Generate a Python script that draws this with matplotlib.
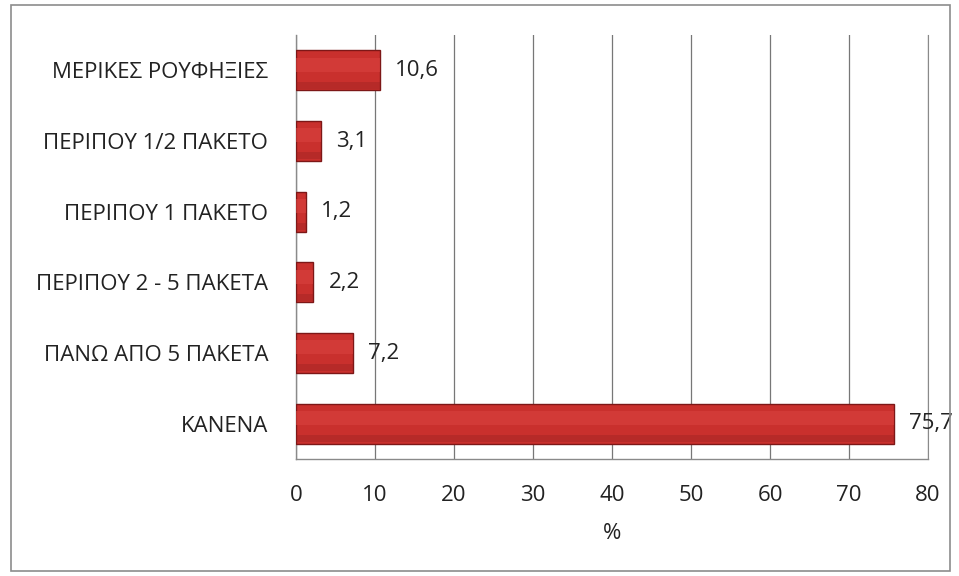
import matplotlib
matplotlib.use("Agg")
import matplotlib.pyplot as plt
from matplotlib.patches import Rectangle

categories = ["ΜΕΡΙΚΕΣ ΡΟΥΦΗΞΙΕΣ", "ΠΕΡΙΠΟΥ 1/2 ΠΑΚΕΤΟ", "ΠΕΡΙΠΟΥ 1 ΠΑΚΕΤΟ",
              "ΠΕΡΙΠΟΥ 2 - 5 ΠΑΚΕΤΑ", "ΠΑΝΩ ΑΠΟ 5 ΠΑΚΕΤΑ", "ΚΑΝΕΝΑ"]
values = [10.6, 3.1, 1.2, 2.2, 7.2, 75.7]
value_labels = ["10,6", "3,1", "1,2", "2,2", "7,2", "75,7"]
xticks = [0, 10, 20, 30, 40, 50, 60, 70, 80]

plt.rcParams['font.family'] = ['Open Sans', 'DejaVu Sans']
FS = 16
TXT = "#222222"

fig = plt.figure(figsize=(9.59, 5.76), dpi=100)
ax = fig.add_axes([0.3087, 0.2031, 0.6590, 0.7361])

# figure border
fig.patches.append(Rectangle((0.011, 0.008), 0.980, 0.984, transform=fig.transFigure,
                             fill=False, edgecolor="#8c8c8c", linewidth=1.2))

ypos = list(range(len(categories)))[::-1]
h = 0.57
ax.barh(ypos, values, height=h, color="#c9302d", edgecolor="#7d1717", linewidth=1.0, zorder=3)
# soft glossy bands
ax.barh([y + 0.08 for y in ypos], values, height=0.2, color="#d9423e", alpha=0.6,
        linewidth=0, zorder=4)
ax.barh([y - 0.21 for y in ypos], values, height=0.1, color="#931f1f", alpha=0.35,
        linewidth=0, zorder=4)

for y, v, lab in zip(ypos, values, value_labels):
    ax.annotate(lab, (v, y), xytext=(11, 0), textcoords="offset points",
                va="center", ha="left", fontsize=FS, color=TXT)

ax.set_xlim(0, 80)
ax.set_ylim(-0.5, 5.5)
ax.set_xticks(xticks)
ax.set_xticklabels([str(t) for t in xticks], fontsize=FS, color=TXT)
ax.set_yticks(ypos)
ax.set_yticklabels(categories, fontsize=FS, color=TXT)
ax.tick_params(axis="both", length=0)
ax.tick_params(axis="x", pad=19)
ax.tick_params(axis="y", pad=20)
ax.set_xlabel("%", fontsize=FS, color=TXT, labelpad=12)

ax.grid(axis="x", color="#777777", linewidth=0.9, zorder=0)
ax.set_axisbelow(True)
ax.spines["top"].set_visible(False)
ax.spines["right"].set_color("#8a8a8a")
for s in ["left", "bottom"]:
    ax.spines[s].set_color("#8a8a8a")
    ax.spines[s].set_linewidth(1.0)

fig.savefig("out.png", dpi=100)
